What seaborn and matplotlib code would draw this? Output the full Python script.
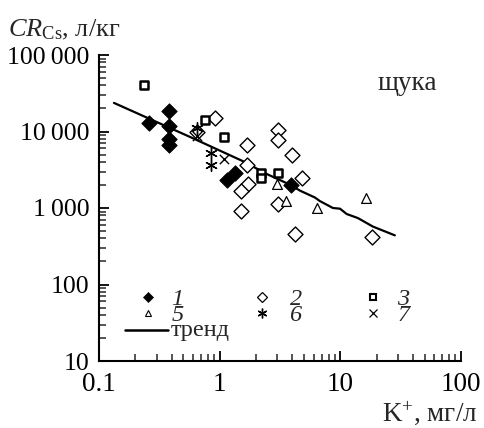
import numpy as np
import pandas as pd
import matplotlib
matplotlib.use("Agg")
import matplotlib.pyplot as plt
import seaborn as sns
from matplotlib.lines import Line2D
from matplotlib.ticker import FixedLocator, LogLocator, NullFormatter

# ---- data ----
s1_x = [0.26, 0.38, 0.38, 0.38, 0.38, 1.16, 1.34, 3.9]
s1_y = [13100, 18400, 11800, 8070, 6700, 2310, 2900, 2010]

s2_x = [0.914, 0.644, 1.68, 1.67, 1.73, 1.5, 1.5, 3.06, 3.06, 3.96, 4.78, 3.03, 4.21, 18.2]
s2_y = [15200, 10000, 6700, 3690, 2040, 1690, 920, 10600, 7660, 4900, 2500, 1130, 453, 422]

s3_x = [0.236, 0.755, 1.09, 2.2, 2.2, 3.02]
s3_y = [40200, 14100, 8500, 2870, 2450, 2840]

s5_x = [2.97, 3.54, 6.37, 16.2]
s5_y = [2040, 1230, 1000, 1370]

s6_x = [0.65, 0.84, 0.84]
s6_y = [11000, 5300, 3700]

s7_x = [0.65, 1.09]
s7_y = [8800, 4400]

trend_x = [0.133, 0.568, 1.56, 2.47, 3.82, 4.62, 6.16, 6.78, 8.68, 9.93, 11.3, 14.0, 18.6, 28.3]
trend_y = [23660, 8490, 4090, 2770, 2020, 1690, 1370, 1230, 1000, 980, 834, 738, 572, 439]

x_ticks = [0.1, 1, 10, 100]
x_tick_labels = ["0.1", "1", "10", "100"]
y_ticks = [10, 100, 1000, 10000, 100000]
y_tick_labels = ["10", "100", "1\u2009000", "10\u2009000", "100\u2009000"]

legend_col1 = ["1", "5"]
legend_col2 = ["2", "6"]
legend_col3 = ["3", "7"]
trend_label = "тренд"
fish_label = "щука"

# ---- style ----
sns.set_theme(style="ticks")
plt.rcParams["font.family"] = ["Liberation Serif", "DejaVu Serif"]
plt.rcParams["mathtext.fontset"] = "custom"
plt.rcParams["mathtext.rm"] = "Liberation Serif"
plt.rcParams["mathtext.it"] = "Liberation Serif:italic"
plt.rcParams["mathtext.sf"] = "Liberation Serif:italic"
plt.rcParams["mathtext.bf"] = "Liberation Serif:bold"
plt.rcParams["axes.linewidth"] = 1.5

fig = plt.figure(figsize=(4.85, 4.28), dpi=100)
fig.patch.set_facecolor("white")
ax = fig.add_axes([99 / 485, 67 / 428, 362 / 485, 306 / 428])
ax.set_facecolor("white")

# trend line
sns.lineplot(x=trend_x, y=trend_y, ax=ax, color="black", lw=1.6, sort=False,
             estimator=None)

common = dict(ax=ax, legend=False, zorder=3)
sns.scatterplot(x=s1_x, y=s1_y, marker="D", s=62, color="black",
                edgecolor="black", linewidth=0.6, **common)
sns.scatterplot(x=s2_x, y=s2_y, marker="D", s=58, facecolor="white",
                edgecolor="black", linewidth=1.0, **common)
sns.scatterplot(x=s3_x, y=s3_y, marker="s", s=40, facecolor="white",
                edgecolor="black", linewidth=1.8, **common)
sns.scatterplot(x=s5_x, y=s5_y, marker="^", s=50, facecolor="white",
                edgecolor="black", linewidth=0.9, **common)
sns.scatterplot(x=s6_x, y=s6_y, marker=(6, 2, 0), s=70, color="black",
                linewidth=1.0, **common)
sns.scatterplot(x=s7_x, y=s7_y, marker="x", s=45, color="black",
                linewidth=1.0, **common)

ax.set_xscale("log")
ax.set_yscale("log")
ax.set_xlim(0.1, 100)
ax.set_ylim(10, 100000)

ax.xaxis.set_major_locator(FixedLocator(x_ticks))
ax.xaxis.set_minor_locator(LogLocator(base=10, subs=np.arange(2, 10)))
ax.xaxis.set_minor_formatter(NullFormatter())
ax.yaxis.set_major_locator(FixedLocator(y_ticks))
ax.yaxis.set_minor_locator(LogLocator(base=10, subs=np.arange(2, 10)))
ax.yaxis.set_minor_formatter(NullFormatter())

ax.tick_params(axis="both", which="major", direction="in", length=7, width=1.3,
               colors="black")
ax.tick_params(axis="both", which="minor", direction="in", length=5, width=1.1)
ax.tick_params(axis="x", which="major", pad=8)
ax.tick_params(axis="y", which="major", pad=7)
ax.set_xticklabels(x_tick_labels, fontsize=19.5)
ax.set_yticklabels(y_tick_labels, fontsize=18.5)

for side in ["top", "right"]:
    ax.spines[side].set_visible(False)
for side in ["left", "bottom"]:
    ax.spines[side].set_color("black")

ax.set_xlabel("")
ax.set_ylabel("")

# texts
fig.text(8 / 485, 1 - 30 / 428, "$CR_{\\mathrm{Cs}}$, л/кг", ha="left",
         va="center", fontsize=19)
fig.text(477 / 485, 1 - 413 / 428, "K$^{+}$, мг/л", ha="right", va="center",
         fontsize=19.5)
ax.text((378 - 99) / 362, (361 - 83) / 306, fish_label, transform=ax.transAxes,
        ha="left", va="center", fontsize=19.5)

# manual legend
T = ax.transAxes
def fx(px):
    return (px - 99) / 362
def fy(py):
    return (361 - py) / 306

leg_specs = [
    (148, 297, dict(marker="D", ms=5.6, mfc="black", mec="black", mew=0.5)),
    (262, 297, dict(marker="D", ms=5.2, mfc="white", mec="black", mew=0.9)),
    (373, 297, dict(marker="s", ms=5.0, mfc="white", mec="black", mew=1.5)),
    (148, 313, dict(marker="^", ms=5.0, mfc="white", mec="black", mew=0.8)),
    (262, 313, dict(marker=(6, 2, 0), ms=7.0, mfc="black", mec="black", mew=1.0)),
    (373, 313, dict(marker="x", ms=6.0, mfc="black", mec="black", mew=0.9)),
]
for mx, my, kw in leg_specs:
    ax.add_line(Line2D([fx(mx)], [fy(my)], transform=T, ls="none",
                       clip_on=False, **kw))

def it(s):
    return "$\\mathsf{" + s + "}$"

col_texts = [
    (171, "\n".join([it(v) for v in legend_col1] + [trend_label])),
    (289, "\n".join(it(v) for v in legend_col2)),
    (397, "\n".join(it(v) for v in legend_col3)),
]
for lx, txt in col_texts:
    ax.text(fx(lx), fy(289), txt, transform=T, ha="left", va="top",
            fontsize=17.5, linespacing=0.66)

ax.add_line(Line2D([fx(125), fx(168)], [fy(330), fy(330)], transform=T,
                   color="black", lw=1.8, clip_on=False))

fig.savefig("out.png", dpi=100, facecolor="white")
